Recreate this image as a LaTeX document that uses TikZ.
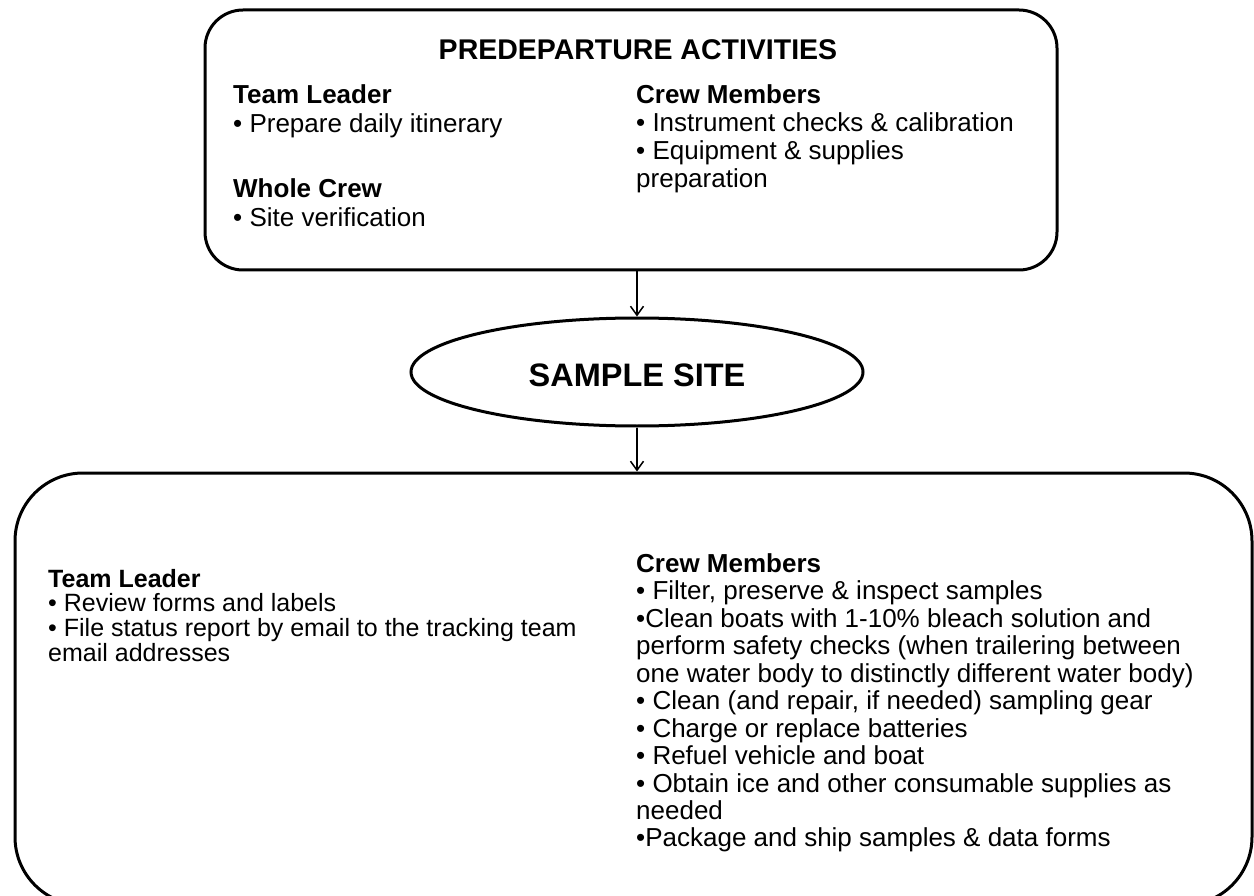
\documentclass[tikz,border=0pt]{standalone}
\usepackage{fontspec}
\setmainfont{Liberation Sans}
\usetikzlibrary{arrows.meta,shapes.geometric}
\begin{document}
\begin{tikzpicture}[x=1pt,y=-1pt,
  boxstyle/.style={draw, line width=3pt, rounded corners=#1, inner sep=0pt},
  txt/.style={anchor=base west, inner sep=0pt, font=\fontsize{26}{31}\selectfont},
  txtb/.style={txt, font=\fontsize{26}{31}\selectfont\bfseries},
  txts/.style={anchor=base west, inner sep=0pt, font=\fontsize{25}{30}\selectfont},
  txtsb/.style={txts, font=\fontsize{25}{30}\selectfont\bfseries},
  arr/.style={line width=1.5pt, -{Straight Barb[length=9pt,width=13pt]}}]
\useasboundingbox (0,0) rectangle (1254,896);
\clip (0,0) rectangle (1254,896);
\fill[white] (0,0) rectangle (1254,896);

% boxes
\node[boxstyle=38, minimum width=852pt, minimum height=260pt] (pre) at (631,140) {};
\node[draw, line width=3pt, ellipse, minimum width=452pt, minimum height=108pt, inner sep=0pt] (sample) at (637,372) {};
\node[anchor=center, inner sep=0pt, font=\fontsize{32.5}{38}\selectfont\bfseries] (sampletxt) at (637,375) {SAMPLE SITE};
\node[boxstyle=68, minimum width=1237pt, minimum height=432pt] (post) at (633.5,689) {};

% arrows
\draw[arr] (pre.south -| sample.north) -- (sample.north);
\draw[arr] (sample.south) -- (sample.south |- post.north);

% title
\node[anchor=base, inner sep=0pt, font=\fontsize{28.5}{34}\selectfont\bfseries] (title) at (638,60) {PREDEPARTURE ACTIVITIES};

% top box, left
\node[txtb] (a1) at (233,104) {Team Leader};
\node[txt]  (a2) at (233,133) {• Prepare daily itinerary};
\node[txtb] (a3) at (233,198) {Whole Crew};
\node[txt]  (a4) at (233,227) {• Site verification};

% top box, right
\node[txtb] (b1) at (636,104) {Crew Members};
\node[txt]  (b2) at (636,132) {• Instrument checks \& calibration};
\node[txt]  (b3) at (636,160) {• Equipment \& supplies};
\node[txt]  (b4) at (636,188) {preparation};

% bottom box, left
\node[txtsb] (c1) at (48,587) {Team Leader};
\node[txts]  (c2) at (48,611) {• Review forms and labels};
\node[txts]  (c3) at (48,636) {• File status report by email to the tracking team};
\node[txts]  (c4) at (48,661) {email addresses};

% bottom box, right
\node[txtb] (d1)  at (636,572) {Crew Members};
\node[txt]  (d2)  at (636,599) {• Filter, preserve \& inspect samples};
\node[txt]  (d3)  at (636,627) {•Clean boats with 1-10\% bleach solution and};
\node[txt]  (d4)  at (636,654) {perform safety checks (when trailering between};
\node[txt]  (d5)  at (636,682) {one water body to distinctly different water body)};
\node[txt]  (d6)  at (636,709) {• Clean (and repair, if needed) sampling gear};
\node[txt]  (d7)  at (636,737) {• Charge or replace batteries};
\node[txt]  (d8)  at (636,764) {• Refuel vehicle and boat};
\node[txt]  (d9)  at (636,792) {• Obtain ice and other consumable supplies as};
\node[txt]  (d10) at (636,819) {needed};
\node[txt]  (d11) at (636,846) {•Package and ship samples \& data forms};
\end{tikzpicture}
\end{document}
